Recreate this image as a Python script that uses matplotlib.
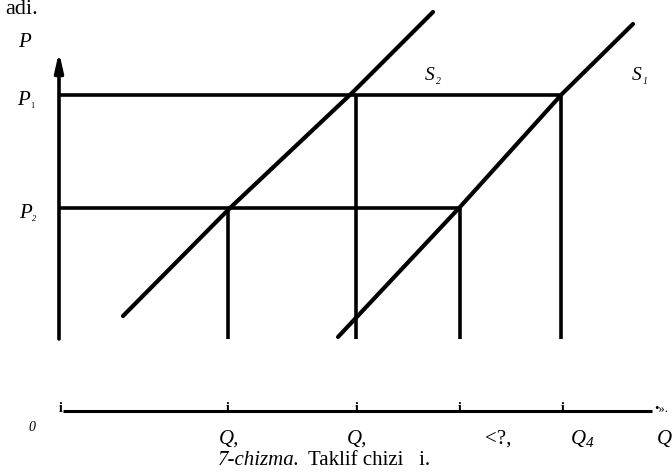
import matplotlib.pyplot as plt

# supply curves (q, p) in drawing units
s2_q = [123, 230, 353, 433]
s2_p = [160, 268, 384, 464]
s1_q = [338, 460, 562, 633]
s1_p = [139, 269, 382, 452]

# price levels and the quantities they cut
p1, p2 = 381, 268
q_levels = [228, 356, 460, 561]
q_tops = [p2, p1, p2, p1]
p_ends = [p1, p2]
p_reach = [562, 460]
p_floor = 137

# broken quantity axis at the bottom
axis_y = 65
tick_x = [61, 228, 357, 460, 563]
q_labels = ["Q,", "Q,", "<?,", "Q", "Q"]
q_label_x = [229, 357, 498, 578, 664]

plt.rcParams['font.family'] = ['Liberation Serif', 'DejaVu Serif']

fig = plt.figure(figsize=(6.72, 4.77), dpi=100)
ax = fig.add_axes([0, 0, 1, 1])
ax.set_xlim(0, 672)
ax.set_ylim(0, 477)
ax.axis('off')

lw = 2.6
# price axis with arrow
ax.annotate('', xy=(59, 424), xytext=(59, p_floor),
            arrowprops=dict(arrowstyle='-|>,head_length=1.1,head_width=0.25',
                            lw=lw, color='black', shrinkA=0, shrinkB=0))

# horizontal price lines
for p, q_end in zip(p_ends, p_reach):
    ax.plot([59, q_end], [p, p], color='black', lw=lw, solid_capstyle='butt')

# vertical drops to the quantities
for q, top in zip(q_levels, q_tops):
    ax.plot([q, q], [p_floor, top], color='black', lw=lw, solid_capstyle='butt')

# supply curves
ax.plot(s2_q, s2_p, color='black', lw=lw + 0.4, solid_capstyle='round')
ax.plot(s1_q, s1_p, color='black', lw=lw + 0.4, solid_capstyle='round')

# labels on the price axis
ax.text(18, 430, 'P', fontsize=15, style='italic', va='baseline')
ax.text(17, 372, 'P', fontsize=15, style='italic', va='baseline')
ax.text(30, 369, '1', fontsize=6, va='baseline')
ax.text(19, 259, 'P', fontsize=15, style='italic', va='baseline')
ax.text(32, 256, '2', fontsize=6, style='italic', va='baseline')

# supply curve labels
ax.text(425, 397, 'S', fontsize=14, style='italic', va='baseline')
ax.text(436, 393, '2', fontsize=7, style='italic', va='baseline')
ax.text(632, 397, 'S', fontsize=14, style='italic', va='baseline')
ax.text(643, 393, '1', fontsize=7, style='italic', va='baseline')

# bottom axis
ax.plot([63, 652], [axis_y, axis_y], color='black', lw=2.2, solid_capstyle='butt')
for x in tick_x:
    ax.text(x, axis_y, 'i', fontsize=10, fontweight='bold', ha='center', va='baseline')
ax.text(654, axis_y, '\u2022\u00bb.', fontsize=9, va='baseline')
ax.text(32, 46, '0', fontsize=10, style='italic', ha='center', va='baseline')

for x, s in zip(q_label_x, q_labels):
    st = 'normal' if s.startswith('<') else 'italic'
    ax.text(x, 33, s, fontsize=15, style=st, ha='center', va='baseline')
ax.text(586, 30, '4', fontsize=11, style='italic', va='baseline')

# caption: italic number, then the plain title right after it
cap = ax.text(218, 12, '7-chizma.', fontsize=15, style='italic', va='baseline')
fig.canvas.draw()
bb = cap.get_window_extent(fig.canvas.get_renderer())
x_end = ax.transData.inverted().transform((bb.x1, bb.y0))[0]
ax.text(x_end + 8, 12, 'Taklif chizi   i.', fontsize=15, va='baseline')

# tail of the previous text line
ax.text(5, 463, 'adi.', fontsize=16, va='baseline')

fig.savefig('out.png', dpi=100)
